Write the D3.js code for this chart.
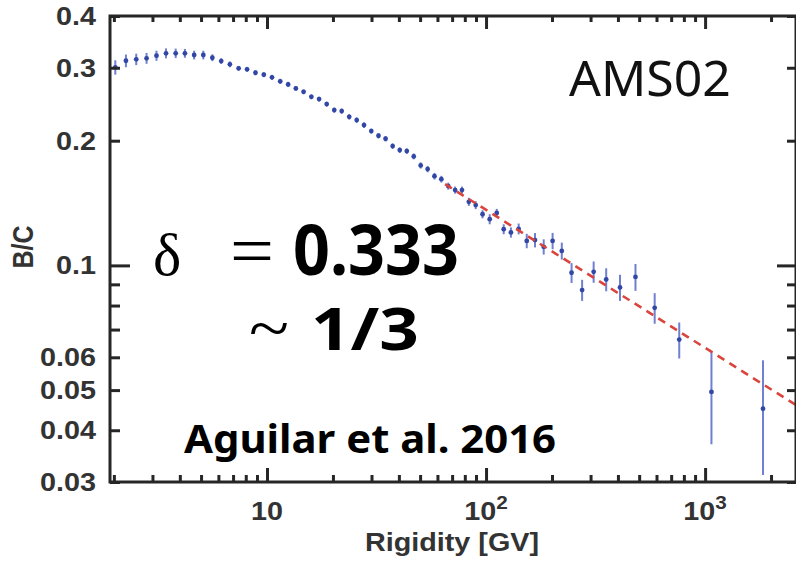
<!DOCTYPE html>
<html><head><meta charset="utf-8">
<script src="https://cdn.jsdelivr.net/npm/d3@7"></script>
<style>body{margin:0;background:#fff}svg{display:block}</style>
</head><body><svg id="c" width="796" height="561"></svg>
<script>
// ---- data ----
const rigidity = [2.03,2.27,2.53,2.82,3.13,3.46,3.83,4.22,4.65,5.12,5.63,6.18,6.77,7.42,8.11,8.86,9.67,10.54,11.49,12.49,13.54,
  14.69,15.94,17.29,18.73,20.28,21.93,23.73,25.68,27.73,29.93,32.28,34.78,37.47,40.37,43.47,46.77,50.31,54.12,58.16,62.51,67.2,
  72.25,77.65,83.45,89.69,96.4,103.9,111.9,120.4,129.9,140.9,153.4,167.3,183.3,201.3,221.7,245.7,274.5,309.9,353.6,408.8,481,588.6,762,1069,1838];
const bc = [0.3007,0.3119,0.3144,0.3162,0.3208,0.3251,0.3251,0.3251,0.3220,0.3220,0.3172,0.3114,0.3058,0.2991,0.2974,0.2918,0.2886,0.2844,0.2782,0.2735,0.2675,
  0.2625,0.2553,0.2520,0.2451,0.2371,0.2358,0.2284,0.2243,0.2181,0.2110,0.2056,0.2022,0.1941,0.1898,0.1888,0.1833,0.1743,0.1708,0.1642,0.1615,0.1554,
  0.1520,0.1520,0.1424,0.1398,0.1329,0.1293,0.1339,0.1223,0.1201,0.1225,0.1146,0.1151,0.1109,0.1146,0.1084,0.0960,0.0872,0.0965,0.0925,0.0885,0.0938,0.0790,0.0662,0.0495,0.0451];
const bcErr = [0.012,0.011,0.010,0.0095,0.009,0.009,0.0086,0.008,0.0078,0.0078,0.006,0.005,0.005,0.004,0.004,0.004,0.004,0.004,0.004,0.004,0.0035,
  0.0035,0.0035,0.0035,0.0035,0.0035,0.0035,0.0035,0.0035,0.0035,0.003,0.003,0.003,0.003,0.003,0.003,0.003,0.003,0.003,0.003,0.003,0.003,
  0.003,0.003,0.0032,0.0031,0.0030,0.0036,0.0030,0.0034,0.0034,0.0037,0.0046,0.0046,0.0047,0.0052,0.0051,0.0053,0.0051,0.0057,0.0059,0.0064,0.0070,0.0067,0.0066,0.0125,0.0139];
const xDomain = [1.92, 2600];
const yDomain = [0.03, 0.4];
const yTickValues = [0.03,0.04,0.05,0.06,0.07,0.08,0.09,0.1,0.2,0.3,0.4];
const yTickLabels = ["0.03","0.04","0.05","0.06","","","","0.1","0.2","0.3","0.4"];
const yMajor = [0.1];
const xMinor = [2,3,4,5,6,7,8,9,20,30,40,50,60,70,80,90,200,300,400,500,600,700,800,900,2000];
const xMajor = [10,100,1000];
const xMajorBase = ["10","10","10"];
const xMajorExp = ["","2","3"];
const fitDelta = 0.333, fitNorm = 0.631, fitRange = [65, 2600];

// ---- layout ----
const svg = d3.select("#c");
const L = 110, R = 796, T = 16, B = 482;
const x = d3.scaleLog().domain(xDomain).range([L, R]);
const y = d3.scaleLog().domain(yDomain).range([B, T]);
const axisCol = "#262626", labCol = "#333";
const SX = 1.15;

// data
const g = svg.append("g");
g.selectAll("line.err").data(rigidity).join("line")
  .attr("x1", d => x(d)).attr("x2", d => x(d))
  .attr("y1", (d,i) => y(bc[i] + bcErr[i])).attr("y2", (d,i) => y(Math.max(bc[i] - bcErr[i], 0.0301)))
  .attr("stroke", "#6f80d0").attr("stroke-width", 2);
g.selectAll("circle").data(rigidity).join("circle")
  .attr("cx", d => x(d)).attr("cy", (d,i) => y(bc[i])).attr("r", 2.4).attr("fill", "#3246a6");

// fit line
const fitLine = d3.line().x(d => x(d)).y(d => y(fitNorm * Math.pow(d, -fitDelta)));
svg.append("path").datum(fitRange).attr("d", fitLine)
  .attr("fill","none").attr("stroke","#d9453d").attr("stroke-width",2.6).attr("stroke-dasharray","8,6");

// axes (ticks only)
function ticks(axis, tr, vals, size){
  const a = axis.tickValues(vals).tickSizeInner(size).tickSizeOuter(0).tickFormat("");
  const sel = svg.append("g").attr("transform", tr).call(a);
  sel.select(".domain").remove();
  sel.selectAll(".tick line").attr("stroke", axisCol).attr("stroke-width", 3);
}
ticks(d3.axisBottom(x), `translate(0,${B})`, xMinor, -7);
ticks(d3.axisBottom(x), `translate(0,${B})`, xMajor, -14);
ticks(d3.axisTop(x), `translate(0,${T})`, xMinor, -6);
ticks(d3.axisTop(x), `translate(0,${T})`, xMajor, -13);
const yMinorVals = yTickValues.filter(v => !yMajor.includes(v));
ticks(d3.axisLeft(y), `translate(${L},0)`, yMinorVals, -10);
ticks(d3.axisLeft(y), `translate(${L},0)`, yMajor, -20);
ticks(d3.axisRight(y), `translate(${R},0)`, yMinorVals, -9);
ticks(d3.axisRight(y), `translate(${R},0)`, yMajor, -19);
svg.append("rect").attr("x", L).attr("y", T).attr("width", R-L).attr("height", B-T)
  .attr("fill","none").attr("stroke", axisCol).attr("stroke-width", 3);

// tick labels
const fontAx = "'Liberation Sans', Arial, sans-serif";
svg.append("g").selectAll("text").data(yTickValues.filter((v,i)=>yTickLabels[i]!=="")).join("text")
  .attr("transform", d => `translate(96,${y(d)}) scale(${SX},1)`)
  .attr("text-anchor","end").attr("dy","0.36em")
  .attr("font-family", fontAx).attr("font-weight","bold").attr("font-size",25).attr("fill",labCol)
  .text(d => yTickLabels[yTickValues.indexOf(d)]);
const xl = svg.append("g").selectAll("text").data(xMajor).join("text")
  .attr("transform", d => `translate(${x(d)},520) scale(${SX},1)`)
  .attr("text-anchor","middle")
  .attr("font-family", fontAx).attr("font-weight","bold").attr("font-size",25).attr("fill",labCol);
xl.append("tspan").text((d,i) => xMajorBase[i]);
xl.append("tspan").attr("dy",-11).attr("font-size",18).text((d,i) => xMajorExp[i]);

// axis titles
svg.append("text").attr("transform", `translate(452,551) scale(${SX},1)`)
  .attr("text-anchor","middle").attr("font-family", fontAx).attr("font-weight","bold")
  .attr("font-size",25).attr("fill",labCol).text("Rigidity [GV]");
svg.append("text").attr("transform", `translate(33,247) scale(${SX},1) rotate(-90)`)
  .attr("text-anchor","middle").attr("font-family", fontAx).attr("font-weight","bold")
  .attr("font-size",25).attr("fill",labCol).text("B/C");

// annotations
const fontAnn = "'Noto Sans', sans-serif";
svg.append("text").attr("x",569).attr("y",96).attr("font-family",fontAnn).attr("font-size",50).attr("fill","#111").text("AMS02");
svg.append("text").attr("x",153).attr("y",275).attr("font-family","'Liberation Serif', serif").attr("font-size",60).attr("fill","#000").text("δ");
svg.append("text").attr("x",230).attr("y",275).attr("font-family","'Liberation Serif', serif").attr("font-size",72)
  .attr("textLength",44).attr("lengthAdjust","spacingAndGlyphs").attr("fill","#000").text("=");
svg.append("text").attr("x",293).attr("y",275).attr("font-family",fontAnn).attr("font-weight","bold").attr("font-size",70)
  .attr("textLength",166).attr("lengthAdjust","spacingAndGlyphs").attr("fill","#000").text("0.333");
svg.append("text").attr("x",249).attr("y",350).attr("font-family","'Liberation Serif', serif").attr("font-size",64)
  .attr("textLength",40).attr("lengthAdjust","spacingAndGlyphs").attr("fill","#000").text("~");
svg.append("text").attr("x",311).attr("y",350).attr("font-family",fontAnn).attr("font-weight","bold").attr("font-size",60)
  .attr("textLength",108).attr("lengthAdjust","spacingAndGlyphs").attr("fill","#000").text("1/3");
svg.append("text").attr("x",184).attr("y",453).attr("font-family",fontAnn).attr("font-weight","bold").attr("font-size",40)
  .attr("textLength",372).attr("lengthAdjust","spacingAndGlyphs").attr("fill","#000").text("Aguilar et al. 2016");
</script></body></html>
